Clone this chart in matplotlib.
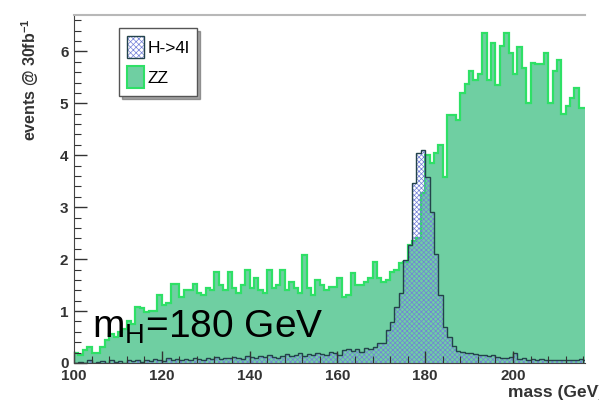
import matplotlib
matplotlib.use("Agg")
import matplotlib.pyplot as plt
import numpy as np
from matplotlib.patches import Patch
from matplotlib.ticker import MultipleLocator

# 1 GeV bins, 100..217
edges = np.arange(100, 218)

zz = [0.2, 0.15, 0.25, 0.3, 0.2, 0.2, 0.3, 0.45, 0.55, 0.5,
      0.6, 0.65, 0.8, 0.75, 1.08, 1.05, 0.98, 1.0, 1.0, 1.3,
      1.12, 1.15, 1.53, 1.53, 1.28, 1.4, 1.4, 1.53, 1.35, 1.3,
      1.45, 1.4, 1.76, 1.5, 1.4, 1.76, 1.45, 1.35, 1.5, 1.79,
      1.45, 1.63, 1.4, 1.35, 1.8, 1.45, 1.5, 1.79, 1.4, 1.55,
      1.45, 1.35, 2.08, 1.45, 1.3, 1.6, 1.5, 1.4, 1.46, 1.46,
      1.63, 1.27, 1.3, 1.73, 1.5, 1.5, 1.55, 1.63, 1.94, 1.63,
      1.55, 1.6, 1.75, 1.8, 1.92, 1.95, 2.27, 2.35, 2.4, 3.27,
      4.0, 3.85, 4.04, 4.2, 3.58, 4.77, 4.77, 4.67, 5.2, 5.38,
      5.63, 5.44, 5.57, 6.35, 5.44, 6.17, 5.35, 6.1, 6.35, 5.96,
      5.57, 6.08, 5.67, 5.0, 5.77, 5.75, 5.75, 5.96, 5.0, 5.63,
      5.83, 4.8, 4.95, 5.1, 5.3, 4.9, 4.9]

higgs = [0.0, 0.02, 0.0, 0.05, 0.0, 0.02, 0.04, 0.0, 0.05, 0.02,
         0.04, 0.0, 0.06, 0.03, 0.05, 0.02, 0.06, 0.04, 0.08, 0.05,
         0.04, 0.1, 0.05, 0.07, 0.06, 0.08, 0.05, 0.09, 0.07, 0.06,
         0.1, 0.08, 0.12, 0.07, 0.1, 0.09, 0.12, 0.1, 0.08, 0.13,
         0.12, 0.1, 0.14, 0.11, 0.15, 0.12, 0.1, 0.14, 0.18, 0.13,
         0.15, 0.2, 0.14, 0.17, 0.15, 0.2, 0.18, 0.16, 0.22, 0.2,
         0.15, 0.25, 0.27, 0.24, 0.27, 0.22, 0.28, 0.27, 0.3, 0.38,
         0.38, 0.63, 0.79, 1.08, 1.35, 1.98, 2.27, 3.46, 4.04, 4.1,
         3.58, 2.9, 2.1, 1.3, 0.7, 0.5, 0.32, 0.23, 0.22, 0.2,
         0.2, 0.18, 0.15, 0.15, 0.14, 0.15, 0.12, 0.1, 0.1, 0.12,
         0.2, 0.08, 0.1, 0.06, 0.08, 0.06, 0.07, 0.06, 0.05, 0.06,
         0.05, 0.06, 0.05, 0.06, 0.05, 0.07, 0.05]

zz_fill = "#6fcfa2"
zz_edge = "#2ee066"
h_hatch = "#7380d8"
h_line = "#23434a"

plt.rcParams["font.family"] = ["Liberation Sans", "DejaVu Sans"]
plt.rcParams["mathtext.default"] = "regular"
plt.rcParams["hatch.linewidth"] = 0.5

fig = plt.figure(figsize=(5.99, 4.01), dpi=100)
ax = fig.add_axes([74 / 599, 1 - 363 / 401, (585 - 74) / 599, (363 - 15) / 401])

ax.stairs(zz, edges, fill=True, color=zz_fill, lw=0)
ax.stairs(zz, edges, color=zz_edge, lw=1.6)
ax.stairs(higgs, edges, fill=True, facecolor="none", edgecolor=h_hatch,
          hatch="xxxxxxx", lw=0)
ax.stairs(higgs, edges, color=h_line, lw=1.0)

ax.set_xlim(100, 216.4)
ax.set_ylim(0, 6.7)

ax.xaxis.set_major_locator(MultipleLocator(20))
ax.xaxis.set_minor_locator(MultipleLocator(4))
ax.yaxis.set_major_locator(MultipleLocator(1))
ax.yaxis.set_minor_locator(MultipleLocator(0.2))
ax.tick_params(which="both", direction="in", top=False, right=False,
               colors="#333333", labelsize=11, pad=4)
ax.tick_params(which="major", length=9, width=1)
ax.tick_params(which="minor", length=5, width=0.8)
for lab in ax.get_xticklabels() + ax.get_yticklabels():
    lab.set_fontweight("bold")

ax.spines["right"].set_visible(False)
ax.spines["top"].set_color("#b8b8b8")
ax.spines["top"].set_linewidth(1.5)
ax.spines["left"].set_color("#444444")
ax.spines["bottom"].set_color("#444444")

fig.text(30 / 599, 1 - 80 / 401, r"events @ 30fb$^{-1}$", rotation=90,
         ha="center", va="center", fontsize=11.5, fontweight="bold", color="#333333")
fig.text(508 / 599, 1 - 397 / 401, "mass (GeV)", ha="left", va="baseline",
         fontsize=12.5, fontweight="bold", color="#333333")

fig.text(92 / 599, 1 - 338 / 401, r"m$_{H}$=180 GeV", ha="left", va="baseline",
         fontsize=28, color="black")

h_handle = (Patch(facecolor="white", edgecolor=h_hatch, hatch="xxxxxx", lw=0),
            Patch(facecolor="none", edgecolor=h_line, lw=1))
zz_handle = Patch(facecolor=zz_fill, edgecolor=zz_edge, lw=1.5)
leg = ax.legend([h_handle, zz_handle], ["H->4l", "ZZ"],
                loc="upper left", bbox_to_anchor=(119 / 599, 1 - 28 / 401),
                bbox_transform=fig.transFigure, fontsize=12.5,
                handlelength=1.0, handleheight=1.6, handletextpad=0.2,
                labelspacing=0.45, borderpad=0.45, borderaxespad=0,
                fancybox=False, shadow=True, framealpha=1,
                edgecolor="#555555")
leg.get_frame().set_linewidth(1.0)

fig.savefig("out.png", dpi=100)
